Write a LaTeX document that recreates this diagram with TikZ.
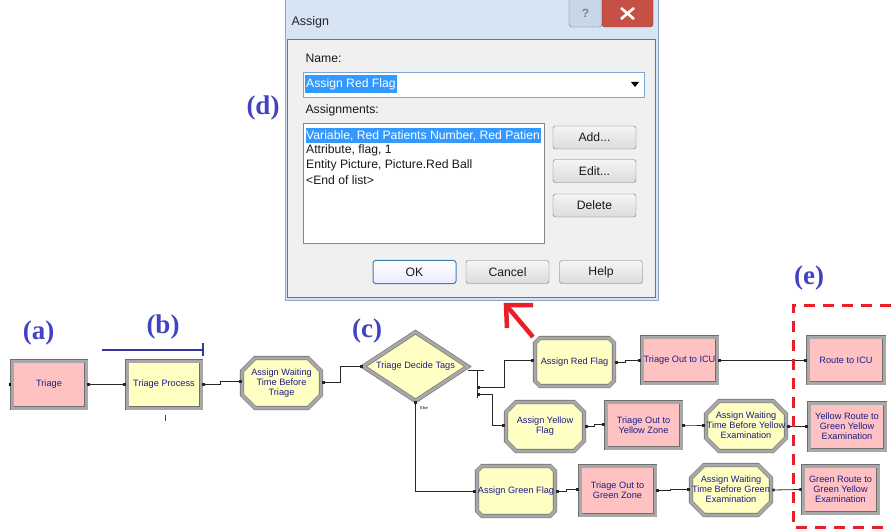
\documentclass[tikz,border=0pt]{standalone}
\usepackage{fontspec}
\setmainfont{Liberation Sans}
\newfontfamily\serifb{Liberation Serif}
\usetikzlibrary{shapes.geometric,shapes.misc,arrows.meta}
\newcommand\zwtext[1]{\makebox[0pt]{\begin{tabular}{@{}c@{}}#1\end{tabular}}}
\definecolor{modpink}{RGB}{255,194,194}
\definecolor{modyel}{RGB}{255,255,196}
\definecolor{modtxt}{RGB}{28,28,135}
\definecolor{modedge}{RGB}{110,110,110}
\definecolor{modmid}{RGB}{168,168,168}
\definecolor{lblblue}{RGB}{66,66,196}
\definecolor{winframe}{RGB}{214,228,243}
\definecolor{winedge}{RGB}{140,165,195}
\definecolor{client}{RGB}{240,240,240}
\definecolor{selblue}{RGB}{51,153,255}
\definecolor{btnedge}{RGB}{112,112,112}
\definecolor{okedge}{RGB}{60,127,177}
\definecolor{closered}{RGB}{199,80,70}
\definecolor{helpfill}{RGB}{200,215,232}
\definecolor{alertred}{RGB}{232,30,40}
\definecolor{listedge}{RGB}{130,135,144}
\definecolor{comboedge}{RGB}{122,167,216}
\begin{document}
\begin{tikzpicture}[x=1pt,y=-1pt,
  mod/.style={draw=modedge, line width=0.6pt, double=modmid, double distance=3pt,
    inner sep=0pt, font=\fontsize{9.2}{10}\selectfont, text=modtxt, align=center},
  pinkmod/.style={mod, rectangle, fill=modpink},
  yelmod/.style={mod, rectangle, fill=modyel},
  chammod/.style={mod, chamfered rectangle, chamfered rectangle xsep=13pt,
    chamfered rectangle ysep=13pt, fill=modyel},
  decmod/.style={mod, diamond, fill=modyel},
  conn/.style={draw=black!85, line width=0.8pt,
    {Square[length=2.4pt,width=2.6pt]}-{Square[length=2.4pt,width=2.6pt]}},
  lbl/.style={font=\serifb\bfseries\fontsize{27}{30}\selectfont, text=lblblue},
  dlg/.style={font=\fontsize{12.2}{14}\selectfont, text=black!90},
  btn/.style={dlg, draw=btnedge, top color=white!96!black, bottom color=black!14,
    rounded corners=2.5pt, minimum width=83pt, minimum height=23pt, inner sep=0pt},
  okbtn/.style={btn, draw=okedge, line width=1pt, top color=white, bottom color=blue!8},
]
\path[use as bounding box] (0,0) rectangle (891,529);

% ---------------- dialog window ----------------
\path[fill=winframe, draw=winedge] (285,-3) rectangle (658,300);
\node[anchor=west, font=\fontsize{12.5}{14}\selectfont, text=black!85] (title) at (288,22) {Assign};
\draw[fill=helpfill, draw=winedge!70!black, rounded corners=3pt] (569,-5) -- (569,27) -- (602,27) -- (602,-5);
\node[font=\bfseries\fontsize{12}{14}\selectfont, text=black!50] (qm) at (585.5,13) {?};
\draw[fill=closered, draw=closered!70!black, rounded corners=3pt] (602,-5) -- (602,27) -- (653,27) -- (653,-5);
\draw[white, line width=2.6pt] (621,8) -- (634,19) (634,8) -- (621,19);
\path[fill=client, draw=black!55] (287,39) rectangle (655,297);

\node[dlg, anchor=west] (namelbl) at (302,58) {Name:};
\node[draw=comboedge, fill=white, minimum width=341pt, minimum height=25pt, inner sep=0pt] (combo) at (473.5,84.5) {};
\node[dlg, anchor=west, fill=selblue, text=white, inner sep=1pt, minimum height=18pt] (nameval) at (305,84) {Assign Red Flag};
\fill[black] (631,82) -- (639,82) -- (635,87) -- cycle;

\node[dlg, anchor=west] (asglbl) at (302,110) {Assignments:};
\node[draw=listedge, fill=white, minimum width=241pt, minimum height=120pt, inner sep=0pt] (list) at (423.5,183) {};
\fill[selblue] (306,128) rectangle (541,143);
\node[dlg, anchor=west, text=white, inner sep=0pt] (row1) at (306,135.5) {Variable, Red Patients Number, Red Patien};
\node[dlg, anchor=west, inner sep=0pt] (row2) at (306,150.5) {Attribute, flag, 1};
\node[dlg, anchor=west, inner sep=0pt] (row3) at (306,165.5) {Entity Picture, Picture.Red Ball};
\node[dlg, anchor=west, inner sep=0pt] (row4) at (306,180.5) {<End of list>};

\node[btn] (add) at (594.5,137.5) {Add...};
\node[btn] (edit) at (594.5,171) {Edit...};
\node[btn] (del) at (594.5,205.5) {Delete};
\node[okbtn] (ok) at (414.5,272) {OK};
\node[btn] (cancel) at (507.5,272) {Cancel};
\node[btn] (help) at (601,272) {Help};

% ---------------- labels ----------------
\node[lbl] (la) at (38.5,333) {(a)};
\node[lbl] (lb) at (163,327) {(b)};
\node[lbl] (lc) at (367,331) {(c)};
\node[lbl] (ld) at (263,108) {(d)};
\node[lbl] (le) at (809,278) {(e)};
\draw[lblblue!80!black, line width=1.1pt] (102,350) -- (203,350) (203,343) -- (203,356);
\draw[alertred!80!black, line width=0.8pt] (165,415) -- (165,421);

% red arrow
\coordinate (rtail) at (533,337);
\coordinate (rhead) at (506,305);
\draw[alertred, line width=4.5pt] (rtail) -- (rhead);
\draw[alertred, line width=4.5pt, line join=miter] (533,305) -- (rhead) -- (507,328);

% ---------------- modules ----------------
\node[pinkmod, minimum width=74pt, minimum height=47pt] (triage) at (49,384.5) {Triage};
\node[yelmod, minimum width=74pt, minimum height=47pt] (proc) at (164,384.5) {Triage Process};
\node[chammod, minimum width=79pt, minimum height=50pt] (awt) at (281.5,383) {\zwtext{Assign Waiting\\Time Before\\Triage}};
\node[decmod, minimum width=105pt, minimum height=69pt] (decide) at (415.5,366.5) {\makebox[0pt]{Triage Decide Tags}};
\node[chammod, minimum width=79pt, minimum height=48pt] (ared) at (574.5,362) {\zwtext{Assign Red Flag}};
\node[chammod, minimum width=78pt, minimum height=49pt] (ayel) at (545,426.5) {\zwtext{Assign Yellow\\Flag}};
\node[chammod, minimum width=78pt, minimum height=50pt] (agrn) at (516,491) {\zwtext{Assign Green Flag}};
\node[pinkmod, minimum width=75pt, minimum height=46pt] (outicu) at (679.5,360) {Triage Out to ICU};
\node[pinkmod, minimum width=75pt, minimum height=46pt] (outyel) at (643.5,425) {Triage Out to\\Yellow Zone};
\node[pinkmod, minimum width=75pt, minimum height=49pt] (outgrn) at (617.5,490.5) {Triage Out to\\Green Zone};
\node[chammod, minimum width=80pt, minimum height=50pt] (awy) at (746,426) {\zwtext{Assign Waiting\\Time Before Yellow\\Examination}};
\node[chammod, minimum width=80pt, minimum height=50pt] (awg) at (731,490) {\zwtext{Assign Waiting\\Time Before Green\\Examination}};
\node[pinkmod, minimum width=76pt, minimum height=46pt] (ricu) at (846,360) {Route to ICU};
\node[pinkmod, minimum width=76pt, minimum height=47pt] (ryel) at (847,426.5) {Yellow Route to\\Green Yellow\\Examination};
\node[pinkmod, minimum width=75pt, minimum height=47pt] (rgrn) at (840.5,489.5) {Green Route to\\Green Yellow\\Examination};

\node[font=\fontsize{4}{4}\selectfont, inner sep=0pt] (else) at (424,408) {Else};
\fill[black] ([xshift=-3pt,yshift=-1.3pt]triage.west) rectangle ([xshift=-0.5pt,yshift=1.3pt]triage.west);

% ---------------- connectors ----------------
\draw[conn] ([xshift=1pt]triage.east) -- ([xshift=-1pt]proc.west);
\draw[conn] ([xshift=1pt]proc.east) -- ++(18,0) |- ([yshift=1.5pt]awt.west);
\draw[conn] ([xshift=1pt,yshift=1pt]awt.east) -- ++(18,0) |- (decide.west);
\coordinate (dx) at (484,370);
\coordinate (vtop) at (477,370);
\coordinate (vbot) at (477,398);
\coordinate (b1) at (477,387);
\coordinate (b2) at (477,394);
\draw[draw=black!85, line width=0.8pt] ([yshift=-3.5pt]decide.east) -- (dx);
\draw[draw=black!85, line width=0.8pt] (vtop) -- (vbot);
\draw[conn] (b1) -- ++(27,0) |- ([yshift=1.5pt,xshift=-1pt]ared.west);
\draw[conn] (b2) -- ++(15,0) |- ([xshift=-1pt,yshift=1pt]ayel.west);
\draw[conn] (decide.south) |- ([xshift=-1pt]agrn.west);
\draw[conn] ([xshift=1pt]ared.east) -- ++(10,0) |- ([xshift=-1pt]outicu.west);
\draw[conn] ([xshift=1pt]outicu.east) -- ([xshift=-1pt]ricu.west);
\draw[conn] ([xshift=1pt]ayel.east) -- ++(9,0) |- ([xshift=-1pt,yshift=1pt]outyel.west);
\draw[conn] ([xshift=1pt]outyel.east) -- ++(9,0) |- ([xshift=-1pt,yshift=1pt]awy.west);
\draw[conn] ([xshift=1pt]awy.east) -- ++(8,0) |- ([xshift=-1pt]ryel.west);
\draw[conn] ([xshift=1pt]agrn.east) -- ++(10,0) |- ([xshift=-1pt,yshift=1.5pt]outgrn.west);
\draw[conn] ([xshift=1pt]outgrn.east) -- ++(14,0) |- ([xshift=-1pt,yshift=1pt]awg.west);
\draw[conn] ([xshift=1pt]awg.east) -- ([xshift=-1pt]rgrn.west);

% ---------------- dashed frame (e) ----------------
\draw[alertred, line width=3pt, dash pattern=on 11pt off 8pt] (891,305) -- (793,305) -- (793,527) -- (891,527);
\end{tikzpicture}
\end{document}
